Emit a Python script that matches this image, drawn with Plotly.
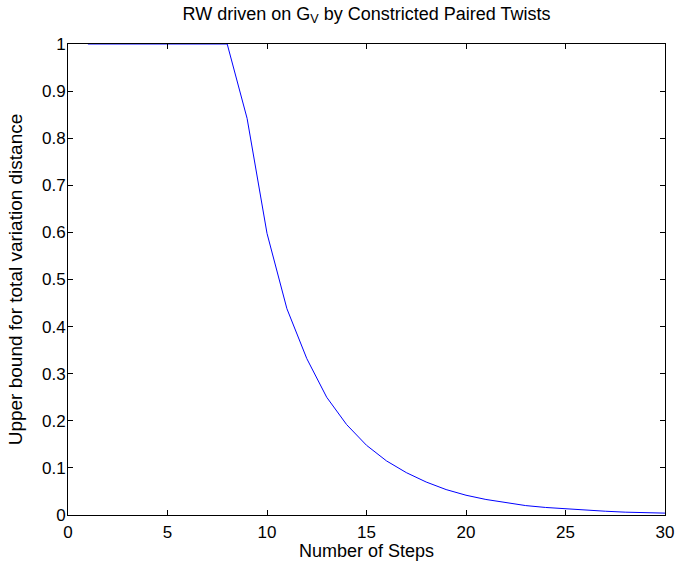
import plotly.graph_objects as go

steps = list(range(1, 31))
bound = [1.0, 1.0, 1.0, 1.0, 1.0, 1.0, 1.0, 1.0, 0.842, 0.598,
         0.438, 0.332, 0.250, 0.192, 0.148, 0.115, 0.090, 0.070, 0.054, 0.042,
         0.033, 0.026, 0.020, 0.016, 0.013, 0.010, 0.008, 0.006, 0.005, 0.004]

x_ticks = [0, 5, 10, 15, 20, 25, 30]
y_ticks = [0, 0.1, 0.2, 0.3, 0.4, 0.5, 0.6, 0.7, 0.8, 0.9, 1]
y_tick_text = ["0", "0.1", "0.2", "0.3", "0.4", "0.5", "0.6", "0.7", "0.8", "0.9", "1"]

fig = go.Figure()
fig.add_trace(go.Scatter(x=steps, y=bound, mode="lines",
                         line=dict(color="#0000ff", width=1), showlegend=False))

fam = "Liberation Sans, Arial, sans-serif"
tick_font = dict(family=fam, size=17, color="black")
label_font = dict(family=fam, size=19, color="black")
xlabel_font = dict(family=fam, size=18, color="black")
title_font = dict(family=fam, size=18, color="black")
axis_common = dict(showgrid=False, zeroline=False, showline=True, linecolor="black",
                   linewidth=1, mirror="ticks", ticks="inside", ticklen=5,
                   tickcolor="black", tickfont=tick_font, automargin=False,
                   ticklabeloverflow="allow")

fig.update_layout(
    width=675, height=561,
    margin=dict(l=68, r=10, t=44, b=46),
    paper_bgcolor="white", plot_bgcolor="white",
    font=label_font,
    title=dict(text="RW driven on G<sub>V</sub> by Constricted Paired Twists",
               x=0.5, xref="paper", xanchor="center", y=1 - 7 / 561, yref="container",
               yanchor="top", font=title_font),
    xaxis=dict(range=[0, 30], tickvals=x_ticks, ticklabelstandoff=2,
               title=dict(text="Number of Steps", font=xlabel_font, standoff=0),
               **axis_common),
    yaxis=dict(range=[0, 1], tickvals=y_ticks, ticktext=y_tick_text, ticklabelstandoff=-2,
               title=dict(text="Upper bound for total variation distance", font=label_font, standoff=14),
               **axis_common),
)

fig.write_html(
    "out.html",
    config={"displayModeBar": False},
    post_script="document.body.style.margin='0';document.documentElement.style.overflow='hidden';",
)
